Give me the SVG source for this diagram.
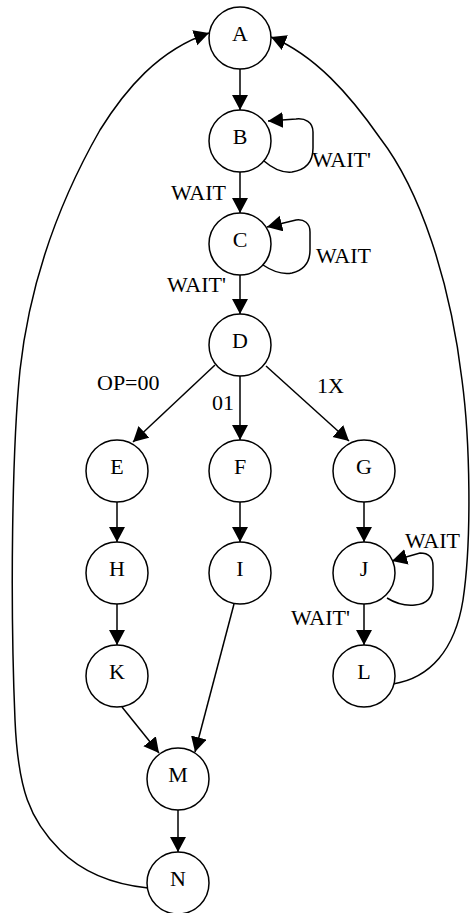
<svg xmlns="http://www.w3.org/2000/svg" width="470" height="913" viewBox="0 0 470 913">
  <style>
    .node circle { fill: #fff; stroke: #000; stroke-width: 1.5; }
    .node text { font-family: "Liberation Serif", "Times New Roman", serif; font-size: 22px; text-anchor: middle; fill: #000; }
    .edges path { fill: none; stroke: #000; stroke-width: 1.5; marker-end: url(#arrow); }
    .labels text { font-family: "Liberation Serif", "Times New Roman", serif; font-size: 22px; fill: #000; }
  </style>
  <defs>
    <marker id="arrow" markerUnits="userSpaceOnUse" markerWidth="16" markerHeight="17" refX="15" refY="8" orient="auto">
      <path d="M0,0 L15,8 L0,16 Z" fill="#000"/>
    </marker>
  </defs>
  <rect width="470" height="913" fill="#fff"/>

  <!-- connectors -->
  <g class="edges">
    <path d="M240,69 L240,110"/>
    <path d="M264,161 C272,168 282,173 292,172 C305,170 313,162 313,148 L313,132 C313,122 305,118 296,119 L268,121"/>
    <path d="M240,172 L240,213"/>
    <path d="M263,265 C272,271 282,275 292,273 C304,270 310,262 310,250 L310,232 C310,223 304,219 296,220 L267,227"/>
    <path d="M240,275 L240,314"/>
    <path d="M215,365 L133,442"/>
    <path d="M240,376 L240,440"/>
    <path d="M266,366 L349,441"/>
    <path d="M117,502 L117,542"/>
    <path d="M240,502 L240,542"/>
    <path d="M364,502 L364,542"/>
    <path d="M117,604 L117,645"/>
    <path d="M387,598 C395,603 405,606 415,605 C428,604 433,596 433,585 L433,566 C433,557 428,553 420,553 L392,561"/>
    <path d="M364,604 L364,645"/>
    <path d="M234,604 L195,752"/>
    <path d="M122,707 L159,753"/>
    <path d="M178,810 L178,852"/>
    <!-- return from N to A -->
    <path d="M148,888 C110,884 80,870 60,850 C30,820 18,790 15,720 C10,600 12,450 20,370 C30,280 60,200 100,130 C125,90 158,50 209,33"/>
    <!-- return from L to A -->
    <path d="M393,684 C430,678 455,650 463,600 C472,540 470,440 462,380 C450,280 420,190 380,138 C350,95 315,55 271,37"/>
  </g>

  <g class="labels">
    <text x="312" y="167">WAIT'</text>
    <text x="171" y="200">WAIT</text>
    <text x="316" y="263">WAIT</text>
    <text x="167" y="292">WAIT'</text>
    <text x="97" y="390">OP=00</text>
    <text x="212" y="410">01</text>
    <text x="317" y="393">1X</text>
    <text x="405" y="548">WAIT</text>
    <text x="291" y="625">WAIT'</text>
  </g>

  <g id="A" class="node"><circle cx="240" cy="38" r="31"/><text x="240" y="41">A</text></g>
  <g id="B" class="node"><circle cx="240" cy="141" r="31"/><text x="240" y="144">B</text></g>
  <g id="C" class="node"><circle cx="240" cy="244" r="31"/><text x="240" y="247">C</text></g>
  <g id="D" class="node"><circle cx="240" cy="345" r="31"/><text x="240" y="348">D</text></g>
  <g id="E" class="node"><circle cx="117" cy="471" r="31"/><text x="117" y="474">E</text></g>
  <g id="F" class="node"><circle cx="240" cy="471" r="31"/><text x="240" y="474">F</text></g>
  <g id="G" class="node"><circle cx="364" cy="471" r="31"/><text x="364" y="474">G</text></g>
  <g id="H" class="node"><circle cx="117" cy="573" r="31"/><text x="117" y="576">H</text></g>
  <g id="I" class="node"><circle cx="240" cy="573" r="31"/><text x="240" y="576">I</text></g>
  <g id="J" class="node"><circle cx="364" cy="573" r="31"/><text x="364" y="576">J</text></g>
  <g id="K" class="node"><circle cx="117" cy="676" r="31"/><text x="117" y="679">K</text></g>
  <g id="L" class="node"><circle cx="364" cy="676" r="31"/><text x="364" y="679">L</text></g>
  <g id="M" class="node"><circle cx="178" cy="779" r="31"/><text x="178" y="782">M</text></g>
  <g id="N" class="node"><circle cx="178" cy="883" r="31"/><text x="178" y="886">N</text></g>
</svg>
